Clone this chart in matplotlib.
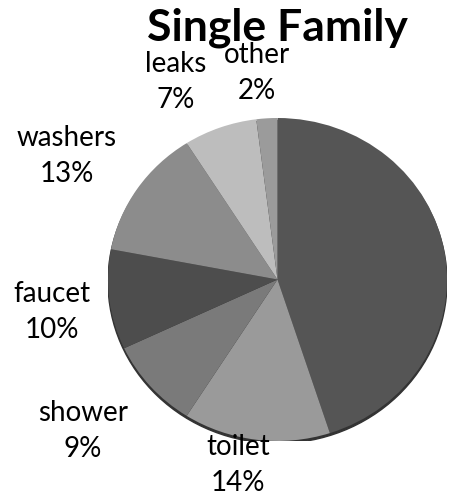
import matplotlib.pyplot as plt
from matplotlib.patches import Ellipse

# water use shares, single family homes (clockwise from top)
names = ['', 'toilet', 'shower', 'faucet', 'washers', 'leaks', 'other']
shares = [45, 14, 9, 10, 13, 7, 2]
colors = ['#555555', '#9a9a9a', '#7a7a7a', '#4d4d4d', '#8c8c8c', '#bdbdbd', '#9b9b9b']

# label centres in pixels (x, y from top) - layout only
label_px = [None, (238, 465), (83, 431), (52, 312), (67, 156), (176, 82), (257, 73)]

W, H = 449, 501
fig = plt.figure(figsize=(W / 100, H / 100), dpi=100)

ax = fig.add_axes([108 / W, (H - 441) / H, 339 / W, 323 / H])
# soft dark rim under the pie
ax.add_patch(Ellipse((0, -0.015), 2.0, 2.0, color='#333333', zorder=0))
ax.pie(shares, colors=colors, startangle=90, counterclock=False,
       radius=1, wedgeprops=dict(linewidth=0))
ax.set_xlim(-1, 1)
ax.set_ylim(-1, 1)
ax.set_aspect('auto')
ax.axis('off')

for name, val, pos in zip(names, shares, label_px):
    if pos is None:
        continue
    fig.text(pos[0] / W, 1 - pos[1] / H, f'{name}\n{val}%', ha='center', va='center',
             fontsize=20, family='Lato', linespacing=1.45, color='black')

fig.text(277 / W, 1 - 28 / H, 'Single Family', ha='center', va='center',
         fontsize=32, family='Lato', fontweight='bold')

fig.savefig('out.png', dpi=100)
